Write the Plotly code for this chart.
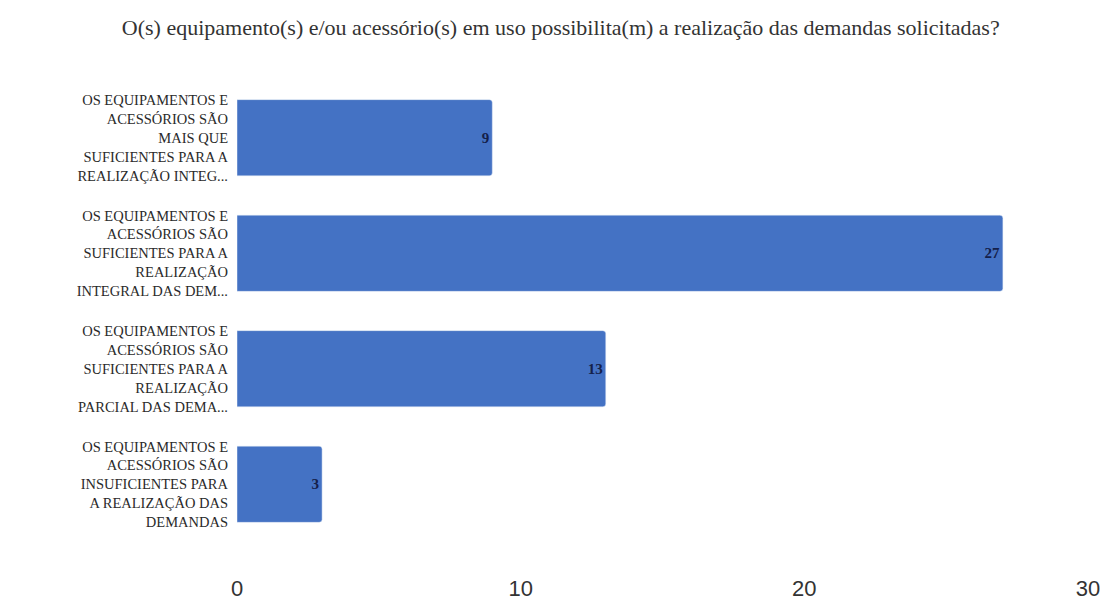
import plotly.graph_objects as go

categories = [
    "OS EQUIPAMENTOS E<br>ACESSÓRIOS SÃO<br>MAIS QUE<br>SUFICIENTES PARA A<br>REALIZAÇÃO INTEG...",
    "OS EQUIPAMENTOS E<br>ACESSÓRIOS SÃO<br>SUFICIENTES PARA A<br>REALIZAÇÃO<br>INTEGRAL DAS DEM...",
    "OS EQUIPAMENTOS E<br>ACESSÓRIOS SÃO<br>SUFICIENTES PARA A<br>REALIZAÇÃO<br>PARCIAL DAS DEMA...",
    "OS EQUIPAMENTOS E<br>ACESSÓRIOS SÃO<br>INSUFICIENTES PARA<br>A REALIZAÇÃO DAS<br>DEMANDAS",
]
values = [9, 27, 13, 3]
x_ticks = [0, 10, 20, 30]
title = "O(s) equipamento(s) e/ou acessório(s) em uso possibilita(m) a realização das demandas solicitadas?"

fig = go.Figure(go.Bar(
    y=categories,
    x=values,
    orientation="h",
    marker=dict(color="#4472C4", cornerradius=3),
    text=[str(v) for v in values],
    textposition="inside",
    insidetextanchor="end",
    textfont=dict(family="Liberation Serif", size=15, color="#14204a", weight="bold"),
))

fig.update_layout(
    width=1106, height=600,
    paper_bgcolor="white", plot_bgcolor="white",
    margin=dict(l=237, r=18, t=80, b=58),
    bargap=0.34,
    showlegend=False,
    title=dict(text=title, x=0.507, xanchor="center", y=0.955, yanchor="middle",
               font=dict(family="Liberation Serif, Times New Roman, serif", size=22, color="#333333")),
    xaxis=dict(range=[0, 30], tickvals=x_ticks, showgrid=False, zeroline=False,
               showline=False, ticks="", ticklabelstandoff=31, automargin=False,
               tickfont=dict(family="Liberation Sans", size=22, color="#333333")),
    yaxis=dict(autorange="reversed", showgrid=False, zeroline=False, showline=False,
               ticks="", ticklabelstandoff=8, automargin=False,
               tickfont=dict(family="Liberation Serif", size=14.5, color="#2a2a2a")),
)

# remove the browser's default 8px body margin so the figure fills the window
fig.write_html("out.html",
               config={"displayModeBar": False},
               post_script="document.body.style.margin='0';document.body.style.overflow='hidden';")
